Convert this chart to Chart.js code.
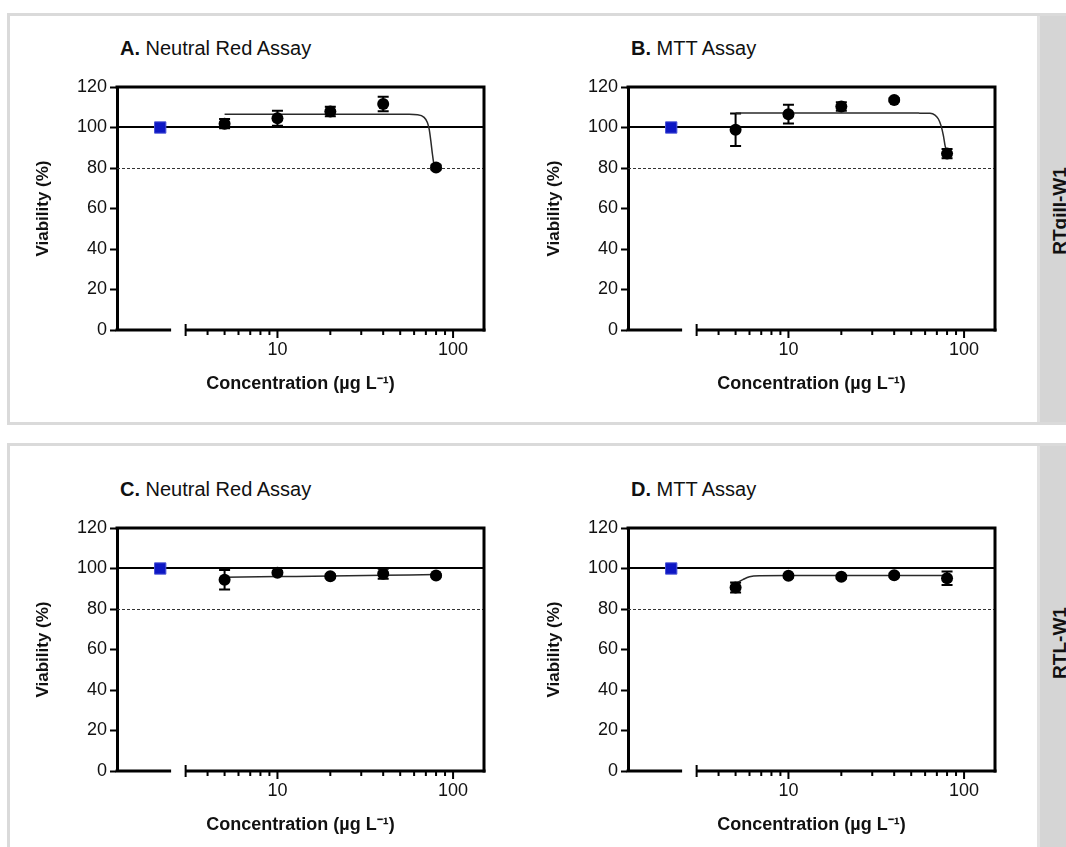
<!DOCTYPE html>
<html>
<head>
<meta charset="utf-8">
<script src="https://cdn.jsdelivr.net/npm/chart.js@4.4.1/dist/chart.umd.min.js"></script>
<style>
  html, body { margin: 0; padding: 0; width: 1066px; height: 847px; overflow: hidden; background: #fff; }
  body { position: relative; font-family: "Liberation Sans", Arial, sans-serif; color: #111; }
  .row { position: absolute; left: 7px; width: 1090px; border: 3px solid #dadada; box-sizing: border-box; }
  .strip { position: absolute; left: 1037px; width: 40px; background: #d5d5d5; border-left: 3px solid #e2e2e2; }
  .side { position: absolute; font-weight: bold; font-size: 19px; white-space: nowrap;
          transform: translate(-50%, -50%) rotate(-90deg); line-height: 1; }
  .ptitle { position: absolute; font-size: 20px; line-height: 1; white-space: nowrap; }
  canvas { position: absolute; }
</style>
</head>
<body>
<div class="row" style="top:13px;height:412px"></div>
<div class="row" style="top:443px;height:420px"></div>
<div class="strip" style="top:16px;height:406px"></div>
<div class="strip" style="top:446px;height:410px"></div>
<div class="side" style="left:1059px;top:211px">RTgill-W1</div>
<div class="side" style="left:1059px;top:643px">RTL-W1</div>

<div class="ptitle" style="left:120px;top:38px"><b>A.</b> Neutral Red Assay</div>
<div class="ptitle" style="left:631px;top:38px"><b>B.</b> MTT Assay</div>
<div class="ptitle" style="left:120px;top:479px"><b>C.</b> Neutral Red Assay</div>
<div class="ptitle" style="left:631px;top:479px"><b>D.</b> MTT Assay</div>

<canvas id="chartA" width="490" height="345" style="left:14px;top:64px"></canvas>
<canvas id="chartB" width="490" height="345" style="left:525px;top:64px"></canvas>
<canvas id="chartC" width="490" height="345" style="left:14px;top:505px"></canvas>
<canvas id="chartD" width="490" height="345" style="left:525px;top:505px"></canvas>

<script>
'use strict';

// concentrations tested (µg/L) and the control
let concentrations = [5, 10, 20, 40, 80];
let controlMean = 100;
let controlX = 2.15;          // where the control sits, left of the axis break
let xMin = 1.22;
let xMax = 150;
let breakFrom = 2.48;
let breakTo = 3;
let xTickLabels = [10, 100];
let xMinorTicks = [4, 5, 6, 7, 8, 9, 20, 30, 40, 50, 60, 70, 80, 90];
let refLines = [100, 80];

// RTgill-W1, neutral red
let nrGillMean = [101.9, 104.6, 107.9, 111.6, 80.3];
let nrGillSem = [2.3, 3.7, 2.3, 3.6, 1.0];
let nrGillFitX = [5, 10, 20, 40, 55, 62.7, 68.4, 71.4, 73.1, 74.7, 76.3, 78, 80];
let nrGillFitY = [106.6, 106.6, 106.6, 106.6, 106.5, 106.3, 105.0, 102.5, 99.2, 93.4, 86.8, 81.5, 80.3];

// RTgill-W1, MTT
let mttGillMean = [98.9, 106.6, 110.4, 113.6, 87.1];
let mttGillSem = [8.0, 4.6, 2.1, 0.8, 2.3];
let mttGillFitX = [5, 10, 20, 40, 55, 64, 68.3, 71.4, 74, 76.3, 78, 80];
let mttGillFitY = [107.2, 107.2, 107.2, 107.2, 107.1, 107.0, 106.1, 104.2, 100.8, 95.9, 90.9, 87.6];

// RTL-W1, neutral red
let nrLiverMean = [94.4, 97.9, 96.2, 97.4, 96.5];
let nrLiverSem = [4.8, 0.8, 0.8, 2.5, 0.6];
let nrLiverFitX = [5, 10, 20, 40, 80];
let nrLiverFitY = [95.7, 96.0, 96.3, 96.65, 97.0];

// RTL-W1, MTT
let mttLiverMean = [90.6, 96.4, 95.9, 96.7, 95.2];
let mttLiverSem = [2.5, 0.8, 0.8, 0.8, 3.3];
let mttLiverFitX = [5, 5.5, 6, 6.9, 10, 20, 40, 80];
let mttLiverFitY = [92.6, 94.5, 95.9, 96.4, 96.5, 96.5, 96.5, 96.5];

Chart.defaults.font.family = '"Liberation Sans", Arial, sans-serif';
Chart.defaults.color = '#111';

// frame, broken x axis, reference lines and error bars
let assayDecor = {
    id: 'assayDecor',
    beforeDatasetsDraw(chart) {
        let ctx = chart.ctx;
        let area = chart.chartArea;
        let yScale = chart.scales.y;
        ctx.save();
        // 100% solid, 80% dashed
        refLines.forEach(function (v, i) {
            let py = Math.round(yScale.getPixelForValue(v));
            ctx.beginPath();
            if (i === 0) {
                ctx.lineWidth = 2;
                ctx.strokeStyle = '#000';
                ctx.setLineDash([]);
            } else {
                ctx.lineWidth = 1;
                ctx.strokeStyle = '#333';
                ctx.setLineDash([3, 2]);
                py += 0.5;
            }
            ctx.moveTo(area.left, py);
            ctx.lineTo(area.right, py);
            ctx.stroke();
        });
        ctx.setLineDash([]);
        // error bars
        chart.data.datasets.forEach(function (ds, di) {
            if (!ds.errors) return;
            let meta = chart.getDatasetMeta(di);
            meta.data.forEach(function (pt, i) {
                let top = yScale.getPixelForValue(ds.data[i].y + ds.errors[i]);
                let bot = yScale.getPixelForValue(ds.data[i].y - ds.errors[i]);
                ctx.beginPath();
                ctx.lineWidth = 2;
                ctx.strokeStyle = '#000';
                ctx.moveTo(pt.x, top);
                ctx.lineTo(pt.x, bot);
                ctx.moveTo(pt.x - 5.5, top);
                ctx.lineTo(pt.x + 5.5, top);
                ctx.moveTo(pt.x - 5.5, bot);
                ctx.lineTo(pt.x + 5.5, bot);
                ctx.stroke();
            });
        });
        ctx.restore();
    },
    afterDraw(chart) {
        let ctx = chart.ctx;
        let area = chart.chartArea;
        let xScale = chart.scales.x;
        ctx.save();
        ctx.strokeStyle = '#000';
        ctx.lineCap = 'butt';
        // top and right frame
        ctx.lineWidth = 3;
        ctx.beginPath();
        ctx.moveTo(area.left - 1.5, area.top);
        ctx.lineTo(area.right, area.top);
        ctx.lineTo(area.right, area.bottom + 1.5);
        ctx.stroke();
        // broken x axis
        let b = area.bottom;
        let gapStart = xScale.getPixelForValue(breakFrom);
        let gapEnd = xScale.getPixelForValue(breakTo);
        ctx.beginPath();
        ctx.moveTo(area.left - 1.5, b);
        ctx.lineTo(gapStart, b);
        ctx.moveTo(gapEnd, b);
        ctx.lineTo(area.right + 1.5, b);
        ctx.stroke();
        ctx.lineWidth = 2;
        ctx.beginPath();
        ctx.moveTo(gapEnd, b - 6);
        ctx.lineTo(gapEnd, b + 6);
        xMinorTicks.forEach(function (v) {
            let px = xScale.getPixelForValue(v);
            ctx.moveTo(px, b);
            ctx.lineTo(px, b + 5);
        });
        xTickLabels.forEach(function (v) {
            let px = xScale.getPixelForValue(v);
            ctx.moveTo(px, b);
            ctx.lineTo(px, b + 8);
        });
        ctx.stroke();
        ctx.restore();
    }
};

function makeChart(id, mean, sem, fitX, fitY) {
    let ctx = document.getElementById(id).getContext('2d');
    return new Chart(ctx, {
        type: 'scatter',
        data: {
            datasets: [
                {
                    label: 'Mean viability',
                    data: concentrations.map((c, i) => ({x: c, y: mean[i]})),
                    errors: sem,
                    pointRadius: 6,
                    pointBackgroundColor: '#000',
                    pointBorderColor: '#000',
                    pointBorderWidth: 0
                },
                {
                    label: 'Control',
                    data: [{x: controlX, y: controlMean}],
                    pointStyle: 'rect',
                    pointRadius: 8,
                    pointBackgroundColor: '#0d17c4',
                    pointBorderColor: '#4a52d6',
                    pointBorderWidth: 1
                },
                {
                    label: 'Fit',
                    data: fitX.map((c, i) => ({x: c, y: fitY[i]})),
                    showLine: true,
                    borderColor: '#2a2a2a',
                    borderWidth: 1.5,
                    pointRadius: 0,
                    cubicInterpolationMode: 'monotone'
                }
            ]
        },
        options: {
            responsive: false,
            animation: false,
            devicePixelRatio: 1,
            layout: {padding: {left: 13, top: 23, right: 20, bottom: 10}},
            plugins: {legend: {display: false}, tooltip: {enabled: false}},
            scales: {
                x: {
                    type: 'logarithmic',
                    min: xMin,
                    max: xMax,
                    afterBuildTicks: s => { s.ticks = xTickLabels.map(v => ({value: v})); },
                    afterFit: s => { s.height = 69; },
                    ticks: {
                        callback: v => String(v),
                        font: {size: 18},
                        padding: 9,
                        maxRotation: 0,
                        autoSkip: false
                    },
                    grid: {display: false, drawTicks: false},
                    border: {display: false},
                    title: {
                        display: true,
                        text: 'Concentration (µg L⁻¹)',
                        font: {size: 18, weight: 'bold'},
                        padding: {top: 0, bottom: 4}
                    }
                },
                y: {
                    min: 0,
                    max: 120,
                    afterFit: s => { s.width = 90; },
                    ticks: {stepSize: 20, font: {size: 18}, padding: 3},
                    grid: {drawOnChartArea: false, tickLength: 7, tickWidth: 2, tickColor: '#000'},
                    border: {display: true, width: 3, color: '#000'},
                    title: {
                        display: true,
                        text: 'Viability (%)',
                        font: {size: 17, weight: 'bold'},
                        padding: {top: 6, bottom: 0}
                    }
                }
            }
        },
        plugins: [assayDecor]
    });
}

makeChart('chartA', nrGillMean, nrGillSem, nrGillFitX, nrGillFitY);
makeChart('chartB', mttGillMean, mttGillSem, mttGillFitX, mttGillFitY);
makeChart('chartC', nrLiverMean, nrLiverSem, nrLiverFitX, nrLiverFitY);
makeChart('chartD', mttLiverMean, mttLiverSem, mttLiverFitX, mttLiverFitY);
</script>
</body>
</html>
